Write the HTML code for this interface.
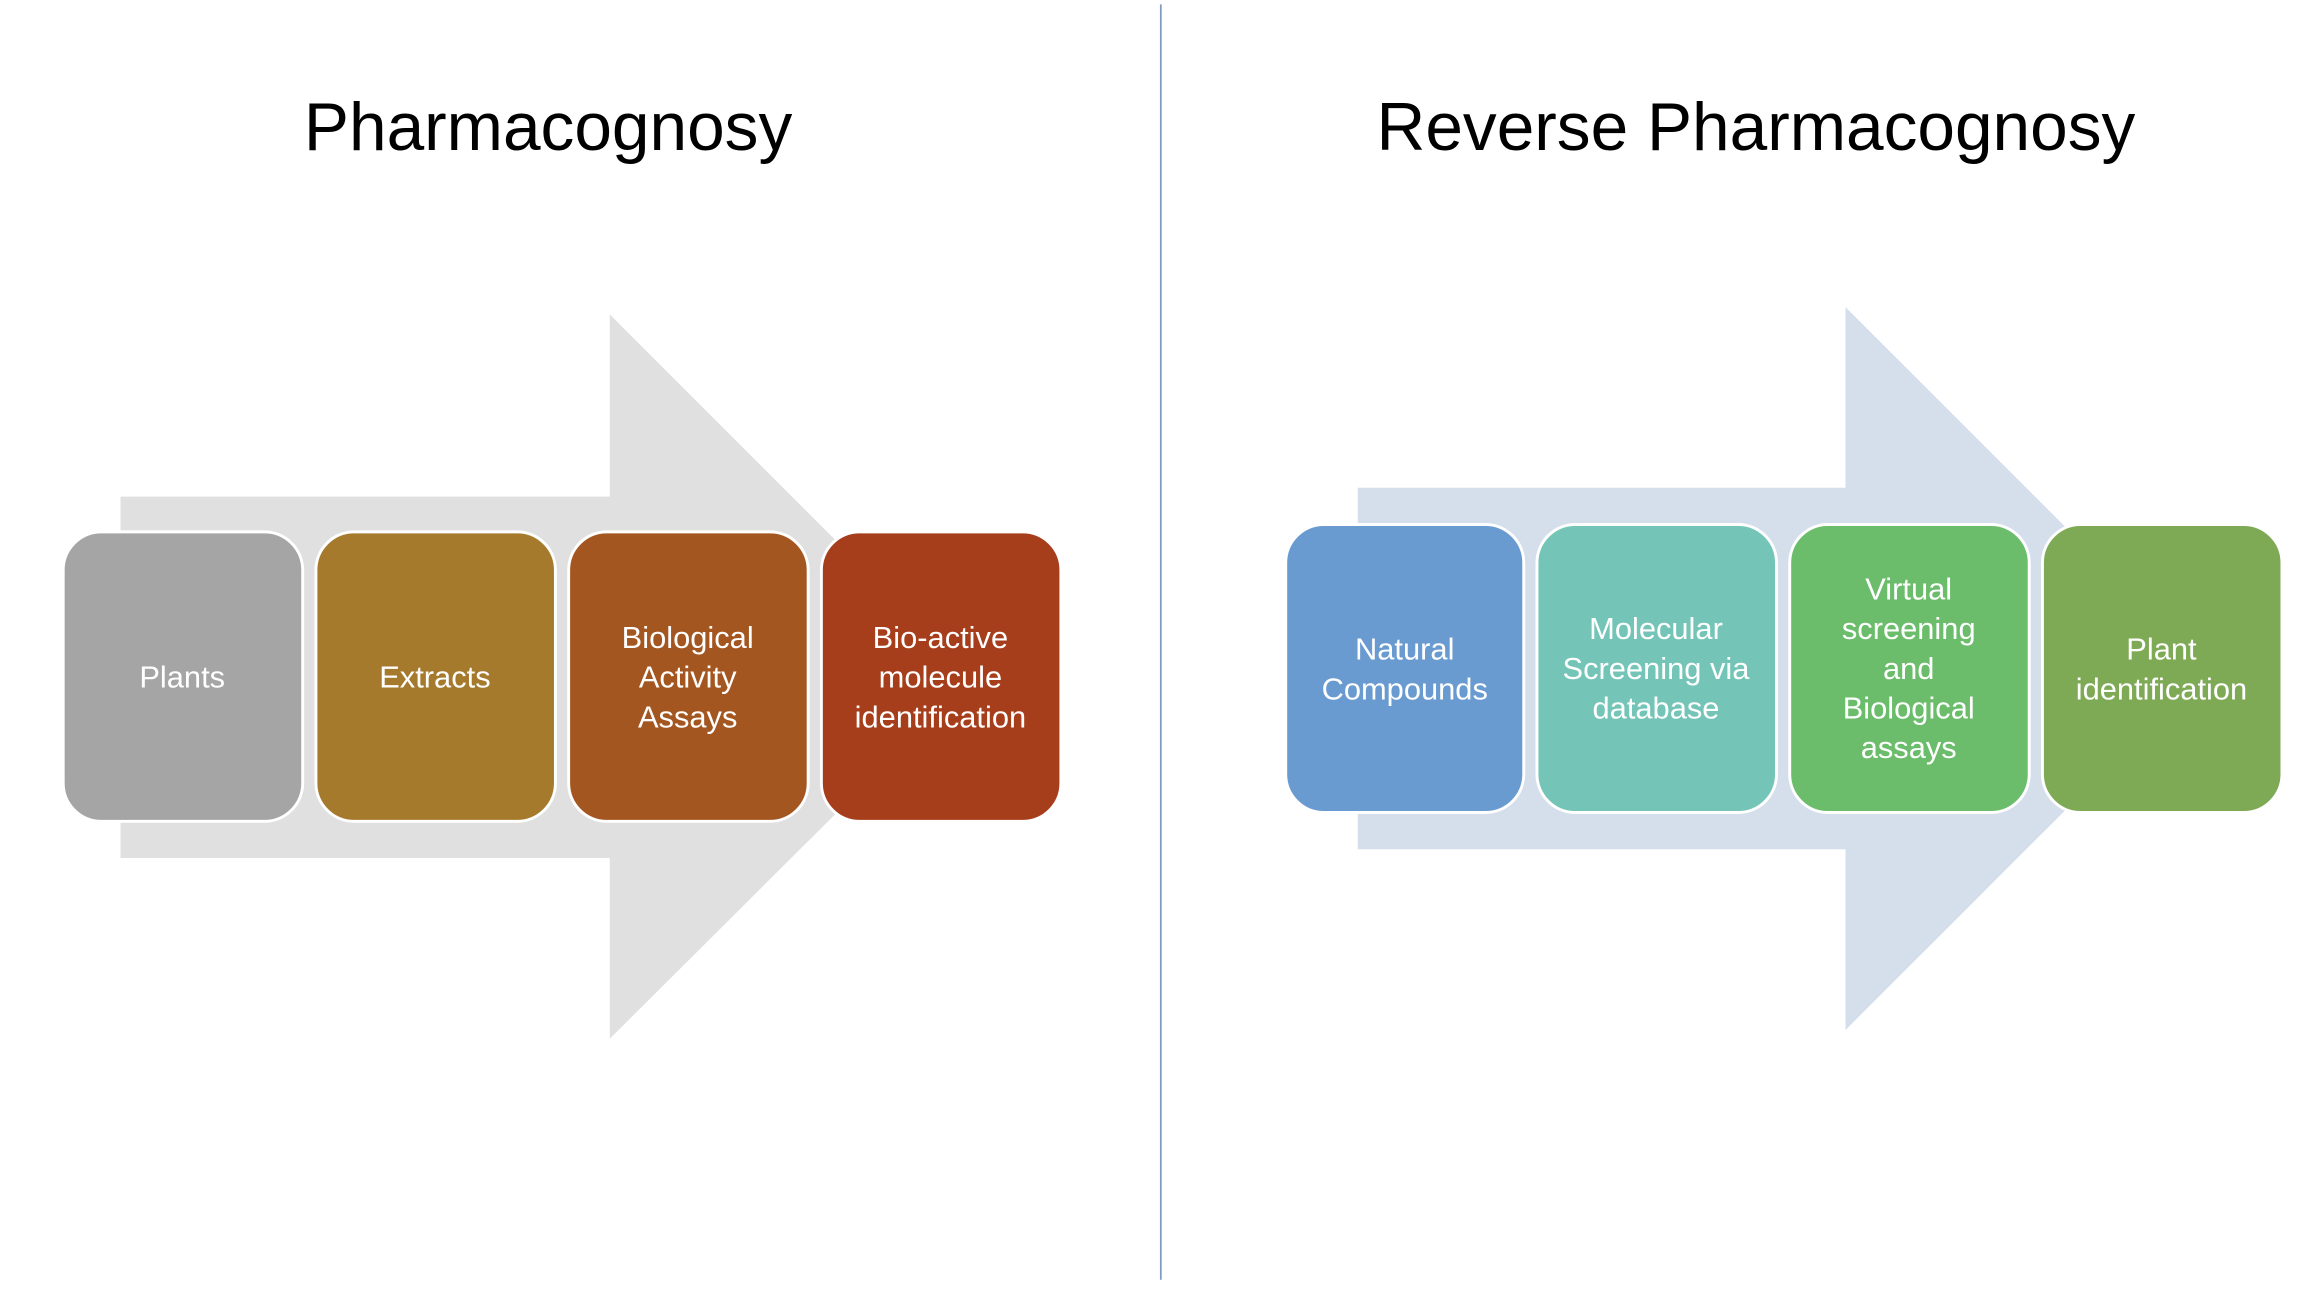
<!DOCTYPE html>
<html><head><meta charset="utf-8"><style>
html,body{margin:0;padding:0;background:#fff;width:2304px;height:1290px;overflow:hidden}
svg{display:block}
text{font-family:"Liberation Sans",sans-serif}
</style></head><body>
<svg width="2304" height="1290" viewBox="0 0 1568 878" preserveAspectRatio="none">
<rect width="1568" height="878" fill="#fff"/>
<line x1="790" y1="3" x2="790" y2="871" stroke="#7f9cc0" stroke-width="1.2"/>
<text x="373" y="102" font-size="46" text-anchor="middle" fill="#000">Pharmacognosy</text>
<text x="1195" y="102" font-size="46" text-anchor="middle" fill="#000">Reverse Pharmacognosy</text>
<polygon points="82,338 415,338 415,214 662,461 415,707 415,584 82,584" fill="#e0e0e0"/>
<polygon points="924,332 1256,332 1256,209 1502,455 1256,701 1256,578 924,578" fill="#d5dfec"/>
<g stroke="#fff" stroke-width="2">
<rect x="43" y="362" width="163" height="197" rx="26" fill="#a5a5a5"/>
<rect x="215" y="362" width="163" height="197" rx="26" fill="#a67a2d"/>
<rect x="387" y="362" width="163" height="197" rx="26" fill="#a45621"/>
<rect x="559" y="362" width="163" height="197" rx="26" fill="#a63d1b"/>
<rect x="875" y="357" width="162" height="196" rx="26" fill="#6a9bd0"/>
<rect x="1046" y="357" width="163" height="196" rx="26" fill="#74c5b7"/>
<rect x="1218" y="357" width="163" height="196" rx="26" fill="#6bbd6b"/>
<rect x="1390" y="357" width="163" height="196" rx="26" fill="#7faa55"/>
</g>
<g fill="#fff" font-size="21" text-anchor="middle">
<text x="124" y="468">Plants</text>
<text x="296" y="468">Extracts</text>
<text x="468" y="441">Biological</text><text x="468" y="468">Activity</text><text x="468" y="495">Assays</text>
<text x="640" y="441">Bio-active</text><text x="640" y="468">molecule</text><text x="640" y="495">identification</text>
<text x="956" y="449">Natural</text><text x="956" y="476">Compounds</text>
<text x="1127" y="435">Molecular</text><text x="1127" y="462">Screening via</text><text x="1127" y="489">database</text>
<text x="1299" y="408">Virtual</text><text x="1299" y="435">screening</text><text x="1299" y="462">and</text><text x="1299" y="489">Biological</text><text x="1299" y="516">assays</text>
<text x="1471" y="449">Plant</text><text x="1471" y="476">identification</text>
</g>
</svg>
</body></html>
